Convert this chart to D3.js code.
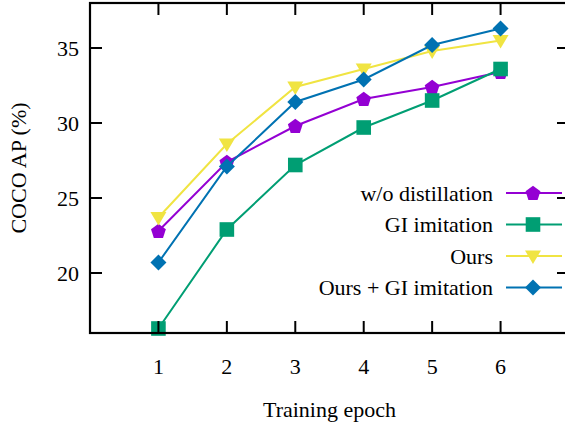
<!DOCTYPE html>
<html lang="en">
<head>
<meta charset="utf-8">
<title>COCO AP vs training epoch</title>
<script src="https://d3js.org/d3.v7.min.js"></script>
<style>
  body { margin: 0; background: #fff; }
</style>
</head>
<body>
<script>
// data
const epochs = [1, 2, 3, 4, 5, 6];
const seriesNames = ["w/o distillation", "GI imitation", "Ours", "Ours + GI imitation"];
const woDistill = [22.8, 27.4, 29.8, 31.6, 32.4, 33.4];
const giImitation = [16.3, 22.9, 27.2, 29.7, 31.5, 33.6];
const ours = [23.7, 28.6, 32.4, 33.6, 34.8, 35.5];
const oursGi = [20.7, 27.1, 31.4, 32.9, 35.2, 36.3];
const yTicks = [20, 25, 30, 35];

const width = 565, height = 428;
const margin = {left: 90, top: 3, right: -4, bottom: 95};
const font = "'Liberation Serif', 'Times New Roman', Times, serif";
const fs = 22;

const svg = d3.select("body").append("svg")
  .attr("width", width).attr("height", height)
  .attr("font-family", font);

const x = d3.scaleLinear().domain([0, 7]).range([margin.left, width - margin.right]);
const y = d3.scaleLinear().domain([16, 38]).range([height - margin.bottom, margin.top]);

const colors = ["#9400d3", "#009e73", "#f0e442", "#0072b2"];

// marker drawing (gnuplot style point types)
function marker(sel, i) {
  if (i === 0) {
    const r = 7.8;
    const pts = d3.range(5).map(k => {
      const a = -Math.PI / 2 + k * 2 * Math.PI / 5;
      return [r * Math.cos(a), r * Math.sin(a) + 0.6];
    });
    sel.append("path").attr("d", "M" + pts.join("L") + "Z");
  } else if (i === 1) {
    sel.append("rect").attr("x", -7.3).attr("y", -7.3).attr("width", 14.6).attr("height", 14.6);
  } else if (i === 2) {
    sel.append("path").attr("d", "M-8,-5.5L8,-5.5L0,8Z");
  } else {
    sel.append("path").attr("d", "M0,-8L8,0L0,8L-8,0Z");
  }
}

const all = [woDistill, giImitation, ours, oursGi];
const line = d3.line().x((d, j) => x(epochs[j])).y(d => y(d));

const plot = svg.append("g");
all.forEach((vals, i) => {
  plot.append("path")
    .datum(vals)
    .attr("d", line)
    .attr("fill", "none")
    .attr("stroke", colors[i])
    .attr("stroke-width", 2);
  vals.forEach((v, j) => {
    const g = plot.append("g")
      .attr("transform", `translate(${x(epochs[j])},${y(v)})`)
      .attr("fill", colors[i]);
    marker(g, i);
  });
});

// frame with mirrored inward ticks
const frame = svg.append("g");
const x0 = x(0), x1 = x(7), yb = y(16), yt = y(38);
frame.append("rect")
  .attr("x", x0).attr("y", yt)
  .attr("width", x1 - x0).attr("height", yb - yt)
  .attr("fill", "none").attr("stroke", "#000").attr("stroke-width", 2.2);

const tl = 12;
epochs.forEach(e => {
  frame.append("line").attr("x1", x(e)).attr("x2", x(e)).attr("y1", yb).attr("y2", yb - tl)
    .attr("stroke", "#000").attr("stroke-width", 2);
  frame.append("line").attr("x1", x(e)).attr("x2", x(e)).attr("y1", yt).attr("y2", yt + tl)
    .attr("stroke", "#000").attr("stroke-width", 2);
  svg.append("text").attr("x", x(e)).attr("y", yb + 41)
    .attr("text-anchor", "middle").attr("font-size", fs).text(e);
});
yTicks.forEach(t => {
  frame.append("line").attr("x1", x0).attr("x2", x0 + tl).attr("y1", y(t)).attr("y2", y(t))
    .attr("stroke", "#000").attr("stroke-width", 2);
  frame.append("line").attr("x1", x1).attr("x2", x1 - tl).attr("y1", y(t)).attr("y2", y(t))
    .attr("stroke", "#000").attr("stroke-width", 2);
  svg.append("text").attr("x", x0 - 11).attr("y", y(t) + 7.5)
    .attr("text-anchor", "end").attr("font-size", fs).text(t);
});

// axis titles
svg.append("text").attr("x", (x0 + x1) / 2).attr("y", 417)
  .attr("text-anchor", "middle").attr("font-size", fs).text("Training epoch");
svg.append("text")
  .attr("transform", `translate(26,${(yt + yb) / 2}) rotate(-90)`)
  .attr("text-anchor", "middle").attr("font-size", fs).text("COCO AP (%)");

// legend
const legY = [193, 224.5, 256, 287.5];
seriesNames.forEach((name, i) => {
  const g = svg.append("g").attr("transform", `translate(0,${legY[i]})`);
  g.append("text").attr("x", 493).attr("y", 7.5)
    .attr("text-anchor", "end").attr("font-size", fs).text(name);
  g.append("line").attr("x1", 506).attr("x2", 562).attr("y1", 0).attr("y2", 0)
    .attr("stroke", colors[i]).attr("stroke-width", 2);
  const m = g.append("g").attr("transform", "translate(533,0)").attr("fill", colors[i]);
  marker(m, i);
});
</script>
</body>
</html>
